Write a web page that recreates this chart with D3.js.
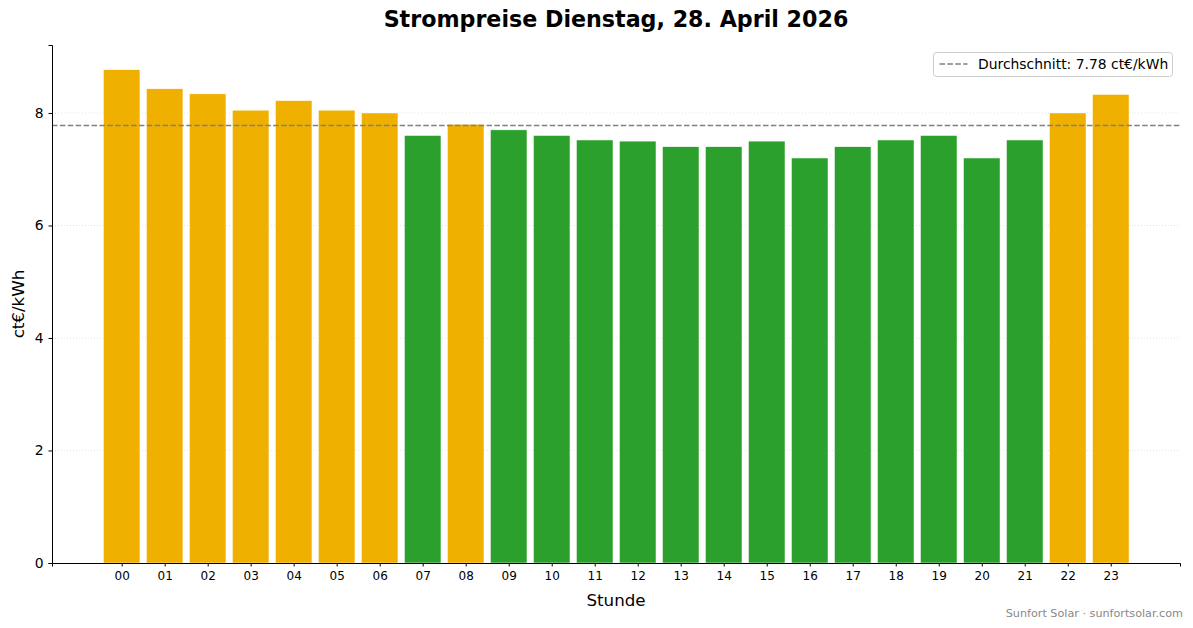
<!DOCTYPE html>
<html>
<head>
<meta charset="utf-8">
<script src="https://cdn.jsdelivr.net/npm/d3@7"></script>
<style>
  body { margin: 0; background: #fff; }
  svg { font-family: "DejaVu Sans", sans-serif; }
</style>
</head>
<body>
<div id="chart"></div>
<script>
// hourly prices in ct/kWh
const hours = ["00","01","02","03","04","05","06","07","08","09","10","11",
               "12","13","14","15","16","17","18","19","20","21","22","23"];
const prices = [8.77, 8.43, 8.34, 8.05, 8.22, 8.05, 8.00, 7.60, 7.80, 7.70, 7.60, 7.52,
                7.50, 7.40, 7.40, 7.50, 7.20, 7.40, 7.52, 7.60, 7.20, 7.52, 8.00, 8.33];
const yTicks = [0, 2, 4, 6, 8];

const width = 1193, height = 628;
const margin = {top: 45, right: 13, bottom: 65, left: 52};
const innerW = width - margin.left - margin.right;
const innerH = height - margin.top - margin.bottom;

const avg = d3.mean(prices);

const svg = d3.select("#chart").append("svg")
  .attr("width", width)
  .attr("height", height);

let x = d3.scaleLinear()
  .domain([-1.62, 24.61])
  .range([0, innerW]);
let y = d3.scaleLinear()
  .domain([0, d3.max(prices) * 1.05])
  .range([innerH, 0]);
let barW = x(0.85) - x(0);

let g = svg.append("g")
  .attr("transform", "translate(" + margin.left + "," + margin.top + ")");

// dotted grid behind bars
g.selectAll(".grid")
  .data(yTicks.filter(d => d > 0))
  .enter().append("line")
  .attr("x1", 0)
  .attr("x2", innerW)
  .attr("y1", d => y(d))
  .attr("y2", d => y(d))
  .attr("stroke", "#dddddd")
  .attr("stroke-width", 0.8)
  .attr("stroke-dasharray", "1,2");

g.selectAll(".bar")
  .data(prices)
  .enter().append("rect")
  .attr("x", (d, i) => x(i) - barW / 2)
  .attr("y", d => y(d))
  .attr("width", barW)
  .attr("height", d => y(0) - y(d))
  .attr("fill", d => d > avg ? "#f0b000" : "#2ca02c")
  .attr("stroke", "#fff")
  .attr("stroke-width", 0.5);

// average line
g.append("line")
  .attr("x1", 0)
  .attr("x2", innerW)
  .attr("y1", y(avg))
  .attr("y2", y(avg))
  .attr("stroke", "#808080")
  .attr("stroke-width", 1.5)
  .attr("stroke-dasharray", "5.5,2.4");

// axes
let xAxis = d3.axisBottom(x)
  .tickValues(d3.range(hours.length))
  .tickFormat(i => hours[i])
  .tickSize(3.5)
  .tickPadding(5);
let gx = g.append("g")
  .attr("transform", "translate(0," + innerH + ")")
  .call(xAxis);
gx.select(".domain").attr("stroke", "#000").attr("stroke-width", 1);
gx.selectAll("text").attr("font-size", "12px").attr("fill", "#000").attr("font-family", "DejaVu Sans");

let yAxis = d3.axisLeft(y)
  .tickValues(yTicks)
  .tickFormat(d3.format("d"))
  .tickSize(3.5)
  .tickPadding(5);
let gy = g.append("g").call(yAxis);
gy.select(".domain").attr("stroke", "#000").attr("stroke-width", 1);
gy.selectAll("text").attr("font-size", "13.9px").attr("fill", "#000").attr("font-family", "DejaVu Sans");

// titles
svg.append("text")
  .attr("x", margin.left + innerW / 2)
  .attr("y", 27)
  .attr("text-anchor", "middle")
  .attr("font-size", "22.2px")
  .attr("font-weight", "bold")
  .text("Strompreise Dienstag, 28. April 2026");

svg.append("text")
  .attr("x", margin.left + innerW / 2)
  .attr("y", 606)
  .attr("text-anchor", "middle")
  .attr("font-size", "16.7px")
  .text("Stunde");

svg.append("text")
  .attr("transform", "translate(24," + (margin.top + innerH / 2) + ") rotate(-90)")
  .attr("text-anchor", "middle")
  .attr("font-size", "16.7px")
  .text("ct€/kWh");

// legend
let lg = svg.append("g").attr("transform", "translate(933.5,52.5)");
lg.append("rect")
  .attr("width", 239)
  .attr("height", 24)
  .attr("rx", 3)
  .attr("fill", "#fff")
  .attr("fill-opacity", 0.8)
  .attr("stroke", "#cccccc")
  .attr("stroke-width", 1);
lg.append("line")
  .attr("x1", 6).attr("x2", 34)
  .attr("y1", 11.5).attr("y2", 11.5)
  .attr("stroke", "#808080")
  .attr("stroke-width", 1.5)
  .attr("stroke-dasharray", "5.5,2.4");
lg.append("text")
  .attr("x", 44.5)
  .attr("y", 16.5)
  .attr("font-size", "13.9px")
  .text("Durchschnitt: " + avg.toFixed(2) + " ct€/kWh");

// footer
svg.append("text")
  .attr("x", 1183)
  .attr("y", 617)
  .attr("text-anchor", "end")
  .attr("font-size", "11.2px")
  .attr("fill", "#888888")
  .text("Sunfort Solar · sunfortsolar.com");
</script>
</body>
</html>
